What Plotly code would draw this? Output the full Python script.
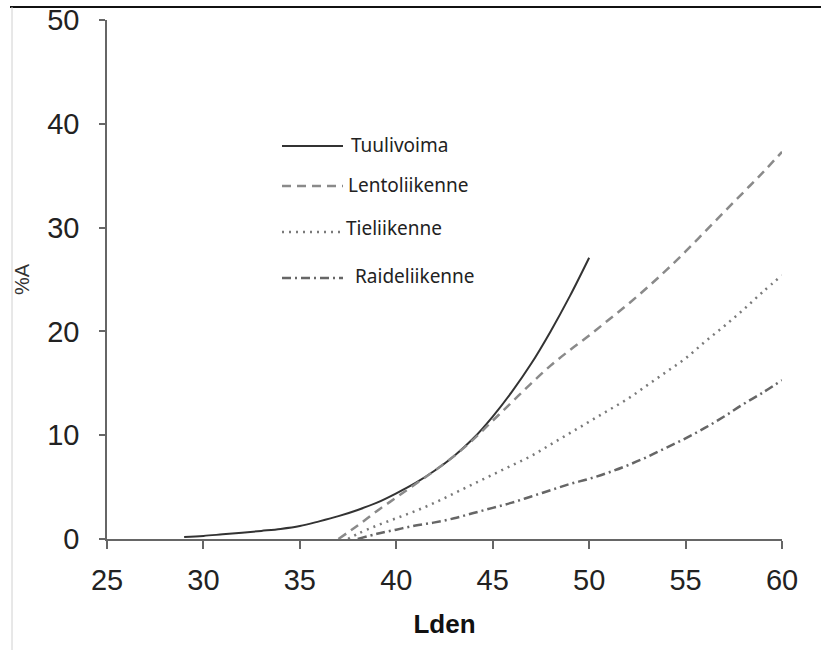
import plotly.graph_objects as go

# ---- data ----
tuuli_x = [29, 30, 31, 32, 33, 34, 35, 36, 37, 38, 39, 40, 41, 42, 43, 44, 45, 46, 47, 48, 49, 50]
tuuli_y = [0.2, 0.3, 0.45, 0.6, 0.78, 0.97, 1.25, 1.7, 2.2, 2.8, 3.5, 4.4, 5.4, 6.6, 8.0, 9.7, 11.8, 14.2, 16.9, 20.0, 23.4, 27.1]

lento_x = [37, 38, 39, 40, 41, 42, 43, 44, 45, 46, 47, 48, 49, 50, 51, 52, 53, 54, 55, 56, 57, 58, 59, 60]
lento_y = [0.0, 1.3, 2.7, 4.0, 5.3, 6.6, 8.0, 9.6, 11.4, 13.2, 15.0, 16.7, 18.2, 19.6, 21.1, 22.6, 24.2, 25.9, 27.7, 29.6, 31.5, 33.4, 35.3, 37.3]

tie_x = [37.5, 38, 39, 40, 41, 42, 43, 44, 45, 46, 47, 48, 49, 50, 51, 52, 53, 54, 55, 56, 57, 58, 59, 60]
tie_y = [0.0, 0.5, 1.3, 2.0, 2.7, 3.5, 4.4, 5.3, 6.2, 7.1, 8.0, 9.1, 10.2, 11.3, 12.4, 13.5, 14.8, 16.1, 17.4, 19.0, 20.5, 22.1, 23.8, 25.4]

raide_x = [38, 39, 40, 41, 42, 43, 44, 45, 46, 47, 48, 49, 50, 51, 52, 53, 54, 55, 56, 57, 58, 59, 60]
raide_y = [0.0, 0.5, 0.9, 1.3, 1.6, 2.0, 2.5, 3.0, 3.5, 4.1, 4.7, 5.3, 5.8, 6.4, 7.1, 7.9, 8.8, 9.7, 10.7, 11.8, 13.0, 14.1, 15.3]

names = ["Tuulivoima", "Lentoliikenne", "Tieliikenne", "Raideliikenne"]
x_ticks = [25, 30, 35, 40, 45, 50, 55, 60]
y_ticks = [0, 10, 20, 30, 40, 50]

# ---- styles ----
styles = [
    dict(color="#333333", width=2, dash="solid"),
    dict(color="#8a8a8a", width=2.5, dash="9px,6px"),
    dict(color="#7a7a7a", width=2.5, dash="2px,5px"),
    dict(color="#666666", width=2.5, dash="9px,4px,2px,4px"),
]

W, H = 821, 650
ML, MR, MT, MB = 107, 39, 20, 111
PW, PH = W - ML - MR, H - MT - MB

def px2paper(px, py):
    return (px - ML) / PW, (H - MB - py) / PH

fig = go.Figure()
series = [(tuuli_x, tuuli_y), (lento_x, lento_y), (tie_x, tie_y), (raide_x, raide_y)]
for (xs, ys), nm, st in zip(series, names, styles):
    fig.add_trace(go.Scatter(x=xs, y=ys, mode="lines", name=nm, line=st,
                             line_shape="spline", showlegend=False))

# custom legend (line samples + labels)
legend_pos = [  # (line_y, text_x, text_y)
    (146, 349, 145),
    (186, 346, 185),
    (232, 344, 228),
    (278, 353, 276),
]
for nm, st, (ly, tx, ty) in zip(names, styles, legend_pos):
    x0, y0 = px2paper(282, ly)
    x1, _ = px2paper(343, ly)
    fig.add_shape(type="line", xref="paper", yref="paper", x0=x0, x1=x1, y0=y0, y1=y0,
                  line=dict(color=st["color"], width=st["width"], dash=st["dash"]))
    ax, ay = px2paper(tx, ty)
    fig.add_annotation(xref="paper", yref="paper", x=ax, y=ay, text=nm, showarrow=False,
                       xanchor="left", yanchor="middle",
                       font=dict(family="Noto Sans, Open Sans, sans-serif", size=19, color="#222222"))

# screenshot frame lines
fx0, fy0 = px2paper(10, 7)
fx1, _ = px2paper(821, 7)
fig.add_shape(type="line", xref="paper", yref="paper", x0=fx0, x1=fx1, y0=fy0, y1=fy0,
              line=dict(color="#111111", width=2))
gx, gy0 = px2paper(12, 7)
_, gy1 = px2paper(12, 650)
fig.add_shape(type="line", xref="paper", yref="paper", x0=gx, x1=gx, y0=gy0, y1=gy1,
              line=dict(color="#d0d0d0", width=1))

tick_font = dict(family="Liberation Sans, Arial, sans-serif", size=29, color="#222222")

fig.update_layout(
    width=W, height=H,
    margin=dict(l=ML, r=MR, t=MT, b=MB, pad=0),
    paper_bgcolor="white", plot_bgcolor="white",
    xaxis=dict(range=[25, 60], tickvals=x_ticks, ticktext=[str(v) for v in x_ticks],
               automargin=False, ticklabeloverflow="allow",
               showgrid=False, zeroline=False, showline=True, linecolor="#666666", linewidth=1.5,
               ticks="outside", ticklen=8, tickcolor="#666666", tickwidth=1.5,
               tickfont=tick_font, ticklabelstandoff=6,
               title=dict(text="<b>Lden</b>", font=dict(family="Liberation Sans, Arial, sans-serif",
                                                       size=26, color="#111111"), standoff=20)),
    yaxis=dict(range=[0, 50], tickvals=y_ticks, ticktext=[str(v) for v in y_ticks],
               automargin=False, ticklabeloverflow="allow",
               showgrid=False, zeroline=False, showline=True, linecolor="#666666", linewidth=1.5,
               ticks="outside", ticklen=6, tickcolor="#666666", tickwidth=1.5,
               tickfont=tick_font, ticklabelstandoff=14,
               title=dict(text="%A", font=dict(family="Liberation Sans, Arial, sans-serif",
                                               size=20, color="#333333"), standoff=12)),
)

fig.write_html("out.html", config={"displayModeBar": False},
               post_script="document.body.style.margin='0px';document.body.style.overflow='hidden';")
